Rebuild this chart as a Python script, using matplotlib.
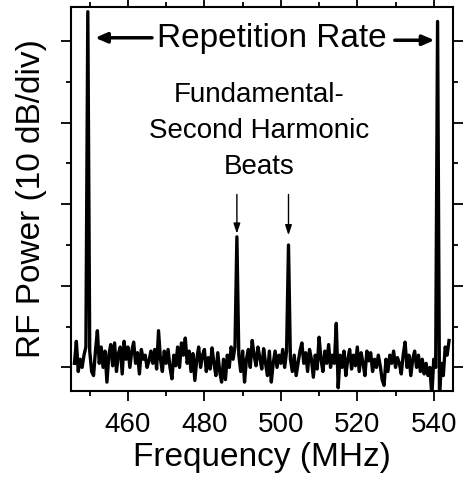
import numpy as np
import matplotlib
matplotlib.use('Agg')
import matplotlib.pyplot as plt
from matplotlib.ticker import MultipleLocator

plt.rcParams['font.family'] = ['Liberation Sans', 'DejaVu Sans']

# RF spectrum, sampled every 0.5 MHz from 446 to 544 MHz (values in dB)
freq_start, freq_step = 446.0, 0.5
power = [
    -79.5, -76.8, -80.5, -79.0, -80.0, -78.5, -77.5, -36.4, -78.0, -80.5,
    -81.0, -78.0, -75.5, -79.5, -77.5, -80.0, -78.0, -81.8, -78.5, -77.2,
    -79.8, -77.0, -80.5, -78.3, -77.5, -80.8, -76.8, -79.0, -77.5, -80.0,
    -78.0, -76.9, -79.5, -78.2, -80.8, -77.8, -79.0, -78.5, -80.0, -79.2,
    -78.0, -79.5, -77.8, -80.2, -75.5, -79.0, -80.5, -78.0, -79.5, -77.8,
    -80.0, -81.4, -78.5, -79.8, -77.5, -80.0, -77.0, -78.5, -76.4, -79.5,
    -78.0, -80.5, -78.3, -81.6, -79.0, -77.5, -80.0, -78.5, -77.8, -80.5,
    -78.8, -80.2, -77.6, -79.5, -81.0, -78.2, -80.5, -81.8, -79.0, -81.5,
    -78.5, -80.0, -77.5, -79.0, -77.5, -64.0, -78.5, -80.5, -78.0, -81.8,
    -79.0, -77.8, -80.0, -76.7, -78.5, -79.8, -77.5, -78.8, -80.2, -77.7,
    -79.5, -81.0, -78.0, -81.8, -79.5, -78.0, -80.0, -78.5, -79.5, -77.8,
    -80.0, -78.0, -65.0, -79.0, -80.5, -78.5, -81.0, -79.5, -78.0, -77.0,
    -79.5, -78.2, -80.5, -77.8, -79.0, -81.2, -78.5, -80.2, -76.3, -79.0,
    -80.5, -78.0, -79.5, -77.2, -80.0, -78.5, -79.5, -74.6, -82.5, -78.5,
    -80.0, -78.0, -81.0, -79.0, -77.8, -80.2, -78.5, -79.8, -77.5, -80.5,
    -78.2, -79.5, -81.0, -78.0, -79.2, -78.2, -80.5, -79.0, -80.0, -78.5,
    -79.8, -81.5, -82.2, -79.0, -80.5, -78.5, -79.5, -78.0, -80.0, -78.8,
    -79.5, -80.8, -78.5, -76.9, -80.0, -78.5, -81.0, -79.0, -78.0, -80.0,
    -78.5, -80.5, -79.0, -80.8, -79.5, -81.0, -80.0, -83.5, -79.0, -80.0,
    -37.6, -83.5, -79.5, -81.0, -77.5, -78.5, -76.7,
]
freq = freq_start + freq_step * np.arange(len(power))

xticks = [460, 480, 500, 520, 540]
beat_peaks = [488.5, 502.0]
rep_peaks = [449.5, 541.0]

fig = plt.figure(figsize=(4.64, 4.84), dpi=100)
ax = fig.add_axes([0.153, 0.192, 0.823, 0.794])

ax.plot(freq, power, color='black', lw=2.4)

ax.set_xlim(445.1, 545.0)
ax.set_ylim(-82.9, -35.8)
ax.set_xticks(xticks)
ax.xaxis.set_minor_locator(MultipleLocator(10))
ax.yaxis.set_major_locator(MultipleLocator(10))
ax.yaxis.set_minor_locator(MultipleLocator(5))
ax.set_yticklabels([])
ax.tick_params(which='both', direction='out', top=True, right=True, width=1.3,
               labelsize=20, pad=8)
ax.tick_params(which='major', length=7)
ax.tick_params(which='minor', length=3.5)
for s in ax.spines.values():
    s.set_linewidth(1.5)

ax.set_xlabel('Frequency (MHz)', fontsize=24, labelpad=3)
ax.set_ylabel('RF Power (10 dB/div)', fontsize=24, labelpad=2)

# repetition rate label with arrows to both outer peaks
ax.text(497.6, -39.7, 'Repetition Rate', fontsize=24, ha='center', va='center')
arrow_kw = dict(arrowstyle='-|>,head_length=0.7,head_width=0.3', color='black', lw=2.5,
                shrinkA=0, shrinkB=0)
ax.annotate('', xy=(rep_peaks[0] + 1.9, -39.6), xytext=(466.3, -39.6), arrowprops=arrow_kw)
ax.annotate('', xy=(rep_peaks[1] - 0.8, -39.9), xytext=(529.8, -39.9), arrowprops=arrow_kw)

# beat notes label
ax.text(494.3, -51.0, 'Fundamental-\nSecond Harmonic\nBeats', fontsize=20,
        ha='center', va='center', linespacing=1.5)
small_kw = dict(arrowstyle='-|>,head_length=0.6,head_width=0.2', color='black', lw=1.0,
                shrinkA=0, shrinkB=0)
ax.annotate('', xy=(beat_peaks[0], -63.6), xytext=(beat_peaks[0], -58.8), arrowprops=small_kw)
ax.annotate('', xy=(beat_peaks[1], -63.8), xytext=(beat_peaks[1], -58.8), arrowprops=small_kw)

fig.savefig('out.png', dpi=100)
